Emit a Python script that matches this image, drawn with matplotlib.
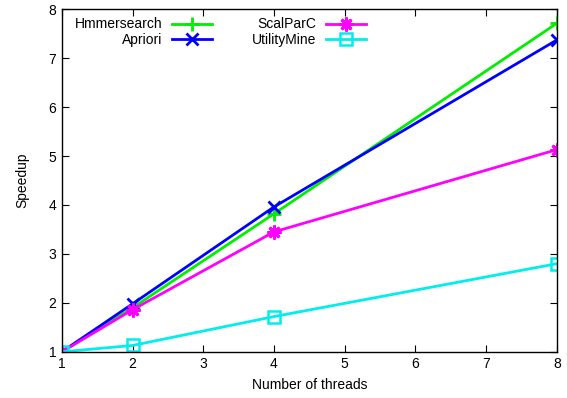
import matplotlib
matplotlib.use("Agg")
import matplotlib.pyplot as plt

plt.rcParams['font.family'] = ['Liberation Sans', 'DejaVu Sans']

threads = [1, 2, 4, 8]
hmmersearch = [1.0, 1.90, 3.82, 7.71]
apriori = [1.0, 1.98, 3.96, 7.37]
scalparc = [1.0, 1.86, 3.45, 5.13]
utilitymine = [1.0, 1.13, 1.72, 2.80]

fig = plt.figure(figsize=(5.67, 3.98), dpi=100)
ax = fig.add_axes([0.109, 0.116, 0.873, 0.861])

lw = 2.0
ax.plot(threads, hmmersearch, color='#00ee00', lw=lw, marker='+', ms=10, mew=2, label='Hmmersearch')
ax.plot(threads, apriori, color='#0000ff', lw=lw, marker='x', ms=9, mew=2, label='Apriori')
ax.plot(threads, scalparc, color='#ff00ff', lw=lw, marker=(8, 2, 0), ms=10, mew=2, label='ScalParC')
ax.plot(threads, utilitymine, color='#00eeee', lw=lw, marker='s', ms=8, mew=1.8,
        markerfacecolor='none', label='UtilityMine')

ax.set_xlim(1, 8)
ax.set_ylim(1, 8)
ax.set_xticks(range(1, 9))
ax.set_yticks(range(1, 9))
ax.tick_params(direction='in', top=True, right=True, length=5, width=0.8, labelsize=10, pad=4)
for s in ax.spines.values():
    s.set_linewidth(1.0)

ax.set_xlabel('Number of threads', fontsize=10, labelpad=5)
ax.set_ylabel('Speedup', fontsize=10, labelpad=14)

ax.legend(ncol=2, markerfirst=False, frameon=False, loc='upper left', fontsize=10,
          handlelength=2.85, handletextpad=0.7, columnspacing=2.9, labelspacing=0.1,
          borderaxespad=0.2, bbox_to_anchor=(0.01, 1.0))

fig.savefig('out.png', dpi=100)
